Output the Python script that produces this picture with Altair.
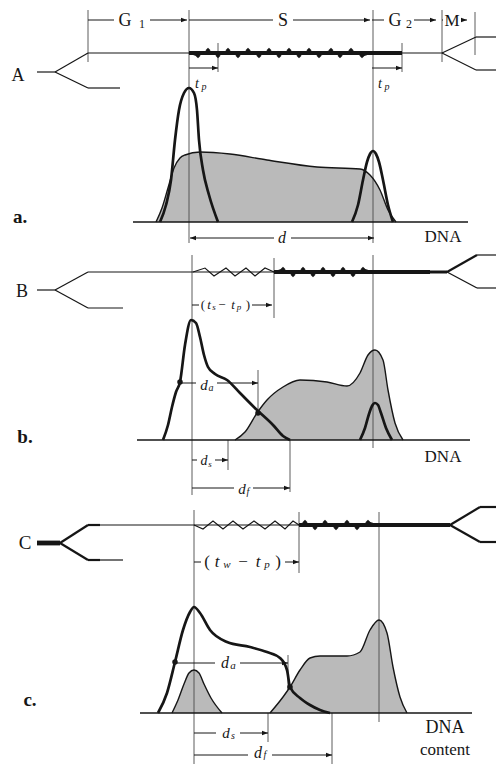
import altair as alt
import pandas as pd

W, H = 496, 764
INK = "#161616"
GUIDE = "#4a4a4a"
SHADE = "#bababa"
SERIF = "Liberation Serif"

# ---------------- histogram curves (diagram units, y grows downward) ----------------
# panel a
a_g1_x = [160, 166, 171, 175, 179, 184, 189, 194, 197, 199, 203, 209, 218]
a_g1_y = [222, 205, 180, 140, 110, 93, 88, 93, 110, 140, 170, 195, 222]
a_s_x = [156, 162, 168, 174, 180, 185, 200, 230, 267, 317, 360, 370, 380, 388, 396]
a_s_y = [222, 208, 188, 168, 158, 155, 152, 154, 160, 167, 169, 175, 190, 210, 222]
a_g2_x = [352, 358, 363, 367, 370, 373, 376, 379, 383, 388, 393]
a_g2_y = [222, 205, 180, 162, 154, 151, 154, 162, 180, 205, 222]
a_base = 222

# panel b
b_g1_x = [163, 168, 172, 176, 180, 185, 191, 196, 200, 204, 208, 215, 227, 240, 257, 273, 283, 290]
b_g1_y = [440, 425, 407, 392, 382, 345, 320, 323, 337, 355, 367, 374, 380, 393, 410, 425, 436, 440]
b_s_x = [235, 245, 257, 267, 283, 300, 327, 347, 360, 368, 375, 383, 388, 395, 403]
b_s_y = [440, 432, 413, 400, 387, 380, 382, 386, 373, 355, 350, 360, 390, 423, 440]
b_g2_x = [360, 365, 369, 372, 375, 378, 381, 386, 392]
b_g2_y = [440, 428, 414, 406, 403, 405, 413, 428, 440]
b_base = 440

# panel c
c_big_x = [158, 167, 175, 183, 190, 194, 200, 210, 227, 250, 267, 280, 287, 290, 300, 310, 320, 330]
c_big_y = [713, 693, 662, 630, 612, 607, 613, 630, 642, 647, 652, 658, 670, 687, 698, 705, 710, 713]
c_g1_x = [172, 178, 184, 189, 194, 199, 204, 211, 222]
c_g1_y = [713, 700, 684, 673, 670, 673, 684, 698, 713]
c_s_x = [270, 283, 290, 300, 310, 320, 347, 360, 370, 379, 387, 393, 400, 407]
c_s_y = [713, 697, 687, 670, 658, 656, 656, 652, 630, 620, 633, 667, 697, 713]
c_base = 713

# half-height / crossing markers
dot_x = [180, 258, 175, 290]
dot_y = [382, 413, 662, 687]

# ---------------- cell-cycle strands ----------------
# replicating stretch drawn as zig-zag (bubbles) along each strand
zz_a_x = [189, 198, 208, 218, 228, 238, 248, 259, 269, 279, 289, 299, 309, 319, 331, 340, 351, 362, 372]
zz_a_y = [53, 56, 50, 56, 50, 56, 50, 56, 50, 56, 50, 56, 50, 56, 50, 56, 50, 56, 53]
zz_b1_x = [193, 205, 214, 226, 235, 246, 255, 265, 274]
zz_b1_y = [272, 268, 276, 268, 276, 268, 276, 268, 272]
zz_b2_x = [274, 283, 293, 303, 313, 323, 333, 343, 353, 363, 373]
zz_b2_y = [272, 269, 275, 269, 275, 269, 275, 269, 275, 269, 272]
zz_c1_x = [194, 203, 213, 223, 233, 243, 254, 265, 275, 285, 293, 299]
zz_c1_y = [525, 529, 521, 529, 521, 529, 521, 529, 521, 529, 521, 525]
zz_c2_x = [299, 305, 315, 325, 336, 347, 357, 368, 378]
zz_c2_y = [525, 522, 528, 522, 528, 522, 528, 522, 525]

# straight strokes: x1, y1, x2, y2, width
seg_x1 = [37, 55, 55, 88, 88, 442, 476, 442, 476, 189,
          37, 55, 55, 88, 88, 274, 430, 447, 477, 447, 477,
          37, 60, 88, 100, 60, 88, 100, 299, 450, 480, 450, 480]
seg_y1 = [72, 72, 72, 88, 53, 53, 37, 53, 70, 53,
          290, 290, 290, 308, 272, 272, 272, 272, 255, 272, 288,
          543, 543, 525, 525, 543, 560, 560, 525, 525, 507, 525, 542]
seg_x2 = [55, 88, 88, 120, 442, 476, 496, 476, 496, 402,
          55, 88, 88, 123, 447, 430, 447, 477, 496, 477, 496,
          60, 88, 100, 450, 88, 100, 123, 450, 480, 496, 480, 496]
seg_y2 = [72, 53, 88, 88, 53, 37, 37, 70, 70, 53,
          290, 272, 308, 308, 272, 272, 272, 255, 255, 288, 288,
          543, 525, 525, 525, 560, 560, 560, 525, 507, 507, 542, 542]
seg_w = [1.2, 1.2, 1.2, 1.2, 1.2, 1.2, 1.2, 1.2, 1.2, 4.2,
         1.2, 1.2, 1.2, 1.2, 1.2, 4.2, 3.0, 2.2, 1.2, 1.2, 1.2,
         4.8, 2.2, 2.2, 1.2, 2.2, 2.2, 1.2, 4.2, 2.2, 2.2, 2.2, 2.2]

# histogram axes
axis_x1 = [133, 137, 140]
axis_x2 = [468, 470, 472]
axis_y = [222, 440, 713]

# vertical guide lines: x, y top, y bottom
guide_x = [88, 189, 373, 442, 475, 218, 402,
           192, 274, 373, 258, 228, 290,
           194, 299, 379, 288, 268, 332]
guide_y1 = [10, 10, 10, 10, 12, 43, 43,
            255, 258, 255, 370, 440, 440,
            510, 512, 512, 655, 713, 713]
guide_y2 = [62, 243, 243, 62, 55, 72, 72,
            495, 318, 448, 414, 470, 492,
            764, 573, 722, 690, 742, 764]

# dimension arrows: y, x start, x end (broken around their labels)
dim_y = [20, 20, 20, 20, 20, 20, 20, 20, 68, 68, 238, 238,
         305, 305, 383, 383, 460, 460, 488, 488,
         562, 562, 663, 663, 733, 733, 755, 755]
dim_x1 = [88, 150, 189, 293, 372, 414, 442, 461, 189, 372, 190, 291,
          192, 252, 180, 217, 192, 215, 192, 253,
          194, 285, 175, 240, 194, 240, 194, 272]
dim_x2 = [114, 187, 273, 370, 384, 436, 443, 467, 218, 402, 274, 374,
          199, 272, 196, 258, 197, 228, 234, 290,
          201, 299, 215, 288, 216, 268, 248, 332]
head_right_x = [187, 370, 436, 467, 218, 402, 374, 272, 258, 228, 290, 299, 288, 268, 332]
head_right_y = [20, 20, 20, 20, 68, 68, 238, 305, 383, 460, 488, 562, 663, 733, 755]
head_left_x = [190]
head_left_y = [238]

# ---------------- labels ----------------
upright_text = ["G", "1", "S", "G", "2", "M", "A", "B", "C", "DNA", "DNA", "DNA", "content",
                "(", "\u2212", ")", "(", "\u2212", ")"]
upright_x = [125, 142, 283, 395, 409, 452, 18, 22, 25, 443, 443, 445, 445,
             203, 222, 248, 207, 243, 278]
upright_y = [21, 24, 21, 21, 24, 21, 76, 292, 543, 237, 457, 728, 750,
             305, 305, 305, 562, 562, 562]
upright_size = [18, 12, 18, 18, 12, 17, 18, 18, 19, 17, 17, 18, 17,
                13, 13, 13, 17, 17, 17]

italic_text = ["t", "p", "t", "p", "d",
               "t", "s", "t", "p", "d", "a", "d", "s", "d", "f",
               "t", "w", "t", "p", "d", "a", "d", "s", "d", "f"]
italic_x = [197, 204, 380, 387, 282,
            209, 214, 233, 239, 204, 211, 204, 210, 242, 248,
            217, 227, 258, 267, 225, 233, 226, 233, 258, 265]
italic_y = [84, 87, 84, 87, 238,
            305, 307, 305, 307, 385, 388, 461, 464, 489, 492,
            562, 565, 562, 565, 663, 666, 733, 736, 753, 755]
italic_size = [14, 10, 14, 10, 16,
               13, 9, 13, 9, 15, 10, 14, 9, 15, 10,
               17, 11, 17, 11, 16, 11, 15, 10, 16, 10]

bold_text = ["a.", "b.", "c."]
bold_x = [20, 25, 30]
bold_y = [217, 437, 700]


# ---------------- tables ----------------
def curve_table(items):
    rows = []
    for name, xs, ys, b in items:
        for i, (xv, yv) in enumerate(zip(xs, ys)):
            rows.append({"id": name, "i": i, "x": xv, "y": yv, "base": b})
    return pd.DataFrame(rows)


shaded_items = [
    ("a_s", a_s_x, a_s_y, a_base),
    ("b_s", b_s_x, b_s_y, b_base),
    ("c_s", c_s_x, c_s_y, c_base),
    ("c_g1", c_g1_x, c_g1_y, c_base),
]
shaded = curve_table(shaded_items)
outlined = curve_table([
    ("a_g1", a_g1_x, a_g1_y, a_base),
    ("a_g2", a_g2_x, a_g2_y, a_base),
    ("b_g1", b_g1_x, b_g1_y, b_base),
    ("b_g2", b_g2_x, b_g2_y, b_base),
    ("c_big", c_big_x, c_big_y, c_base),
])
zigzag_thin = curve_table([
    ("zb1", zz_b1_x, zz_b1_y, 0),
    ("zc1", zz_c1_x, zz_c1_y, 0),
])
zigzag_beads = curve_table([
    ("za", zz_a_x, zz_a_y, 0),
    ("zb2", zz_b2_x, zz_b2_y, 0),
    ("zc2", zz_c2_x, zz_c2_y, 0),
])
bead_pts = zigzag_beads[zigzag_beads.groupby("id")["i"].transform(
    lambda s: (s > s.min()) & (s < s.max()))]

segments = pd.DataFrame({"x": seg_x1, "y": seg_y1, "x2": seg_x2, "y2": seg_y2, "w": seg_w})
axes_df = pd.DataFrame({"x": axis_x1, "x2": axis_x2, "y": axis_y})
guides = pd.DataFrame({"x": guide_x, "y": guide_y1, "y2": guide_y2})
dims = pd.DataFrame({"y": dim_y, "x": dim_x1, "x2": dim_x2})
heads_r = pd.DataFrame({"x": head_right_x, "y": head_right_y})
heads_l = pd.DataFrame({"x": head_left_x, "y": head_left_y})
dots = pd.DataFrame({"x": dot_x, "y": dot_y})
t_up = pd.DataFrame({"x": upright_x, "y": upright_y, "t": upright_text, "s": upright_size})
t_it = pd.DataFrame({"x": italic_x, "y": italic_y, "t": italic_text, "s": italic_size})
t_bd = pd.DataFrame({"x": bold_x, "y": bold_y, "t": bold_text})

X = alt.X("x:Q", scale=alt.Scale(domain=[0, W], nice=False, zero=False), axis=None)
Y = alt.Y("y:Q", scale=alt.Scale(domain=[0, H], nice=False, zero=False, reverse=True), axis=None)
X2 = alt.X2("x2:Q")
Y2 = alt.Y2("y2:Q")

# one filled area per stippled population, closed down to its histogram axis
fills = [
    alt.Chart(pd.DataFrame({"x": xs, "y": ys, "y2": [b] * len(xs)}))
    .mark_area(interpolate="monotone", fill=SHADE, fillOpacity=1, orient="vertical")
    .encode(x=X, y=Y, y2=Y2)
    for _, xs, ys, b in shaded_items
]
fill_edges = alt.Chart(shaded).mark_line(interpolate="monotone", color=INK, strokeWidth=1.4).encode(
    x=X, y=Y, detail="id:N", order="i:Q")
thick_curves = alt.Chart(outlined).mark_line(interpolate="monotone", color=INK, strokeWidth=2.7).encode(
    x=X, y=Y, detail="id:N", order="i:Q")

guide_lines = alt.Chart(guides).mark_rule(color=GUIDE, strokeWidth=0.9).encode(x=X, y=Y, y2=Y2)
axis_lines = alt.Chart(axes_df).mark_rule(color=INK, strokeWidth=1.6).encode(x=X, x2=X2, y=Y)
strands = alt.Chart(segments).mark_rule(color=INK, strokeCap="butt").encode(
    x=X, y=Y, x2=X2, y2=Y2, strokeWidth=alt.StrokeWidth("w:Q", scale=None))
zz_lines = alt.Chart(zigzag_thin).mark_line(color=INK, strokeWidth=1.1).encode(
    x=X, y=Y, detail="id:N", order="i:Q")
bead_lines = alt.Chart(zigzag_beads).mark_line(color=INK, strokeWidth=1.3).encode(
    x=X, y=Y, detail="id:N", order="i:Q")
beads = alt.Chart(bead_pts).mark_point(shape="diamond", filled=True, color=INK, size=20, opacity=1).encode(
    x=X, y=Y)

dim_lines = alt.Chart(dims).mark_rule(color=INK, strokeWidth=1.0).encode(x=X, x2=X2, y=Y)
arrow_r = alt.Chart(heads_r).mark_point(
    shape="M0,0L-1,-0.38L-1,0.38Z", filled=True, color=INK, size=144, opacity=1).encode(x=X, y=Y)
arrow_l = alt.Chart(heads_l).mark_point(
    shape="M0,0L1,-0.38L1,0.38Z", filled=True, color=INK, size=144, opacity=1).encode(x=X, y=Y)
dot_marks = alt.Chart(dots).mark_point(shape="circle", filled=True, color=INK, size=30, opacity=1).encode(
    x=X, y=Y)

txt_up = alt.Chart(t_up).mark_text(font=SERIF, color=INK, align="center", baseline="middle").encode(
    x=X, y=Y, text="t:N", size=alt.Size("s:Q", scale=None))
txt_it = alt.Chart(t_it).mark_text(font=SERIF, fontStyle="italic", color=INK, align="center",
                                   baseline="middle").encode(
    x=X, y=Y, text="t:N", size=alt.Size("s:Q", scale=None))
txt_bd = alt.Chart(t_bd).mark_text(font=SERIF, fontWeight="bold", fontSize=19, color=INK,
                                   align="center", baseline="middle").encode(x=X, y=Y, text="t:N")

chart = alt.layer(
    *fills, guide_lines, fill_edges, thick_curves, axis_lines, strands, zz_lines, bead_lines, beads,
    dim_lines, arrow_r, arrow_l, dot_marks, txt_up, txt_it, txt_bd,
).properties(
    width=W, height=H, autosize=alt.AutoSizeParams(type="none"), padding=0, background="white"
).configure_view(stroke=None)

chart.save("out.html", embed_options={"renderer": "svg", "actions": False})
